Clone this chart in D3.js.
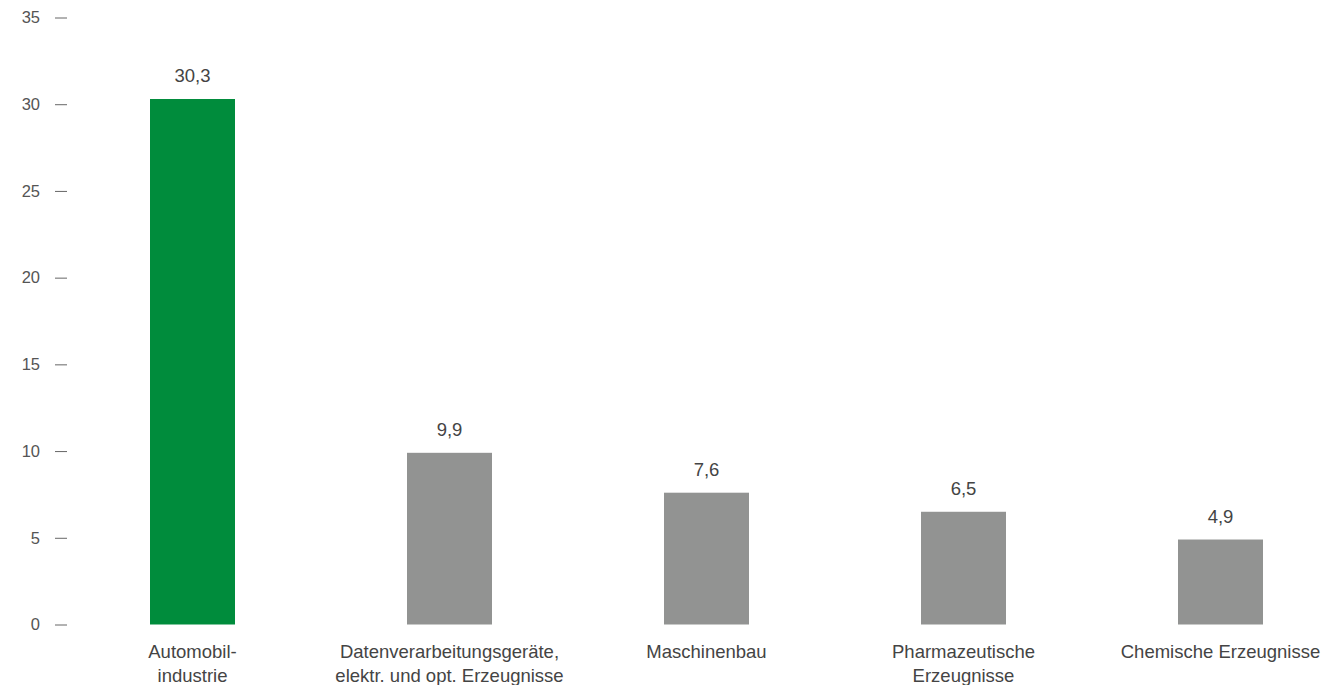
<!DOCTYPE html>
<html><head><meta charset="utf-8">
<script src="https://cdn.jsdelivr.net/npm/d3@7"></script>
<style>html,body{margin:0;padding:0;background:#fff;}svg{display:block;}</style>
</head><body>
<svg id="c" width="1326" height="685"></svg>
<script>
const categories = [["Automobil-","industrie"],["Datenverarbeitungsgeräte,","elektr. und opt. Erzeugnisse"],["Maschinenbau"],["Pharmazeutische","Erzeugnisse"],["Chemische Erzeugnisse"]];
const values = [30.3, 9.9, 7.6, 6.5, 4.9];
const labels = ["30,3","9,9","7,6","6,5","4,9"];
const colors = ["#008c3c","#929392","#929392","#929392","#929392"];
const yTicks = [0,5,10,15,20,25,30,35];

const svg = d3.select("#c");
const font = "Liberation Sans, Arial, sans-serif";
const y = d3.scaleLinear().domain([0,35]).range([624.5,17.5]);
const x = d3.scaleBand().domain(d3.range(values.length)).range([64,1349]).padding(0);
const barW = 85;

const yAxis = d3.axisLeft(y).tickValues(yTicks).tickSize(12).tickPadding(15).tickFormat(d3.format("d"));
const ga = svg.append("g").attr("transform","translate(67,0)").call(yAxis);
ga.select(".domain").remove();
ga.selectAll(".tick line").attr("stroke","#666").attr("stroke-width",1);
ga.selectAll(".tick text").attr("fill","#555").style("font-family",font).style("font-size","16.5px");

svg.selectAll("rect.bar").data(values).enter().append("rect")
  .attr("x",(d,i)=>x(i)+(x.bandwidth()-barW)/2)
  .attr("width",barW)
  .attr("y",d=>y(d))
  .attr("height",d=>y(0)-y(d))
  .attr("fill",(d,i)=>colors[i]);

svg.selectAll("text.val").data(values).enter().append("text")
  .attr("x",(d,i)=>x(i)+x.bandwidth()/2)
  .attr("y",d=>y(d)-17)
  .attr("text-anchor","middle")
  .attr("fill","#444")
  .style("font-family",font).style("font-size","18.5px")
  .text((d,i)=>labels[i]);

categories.forEach((lines,i)=>{
  const t = svg.append("text").attr("text-anchor","middle").attr("fill","#444")
    .style("font-family",font).style("font-size","18.5px");
  lines.forEach((l,j)=>{
    t.append("tspan").attr("x",x(i)+x.bandwidth()/2).attr("y",658+j*24).text(l);
  });
});
</script>
</body></html>
